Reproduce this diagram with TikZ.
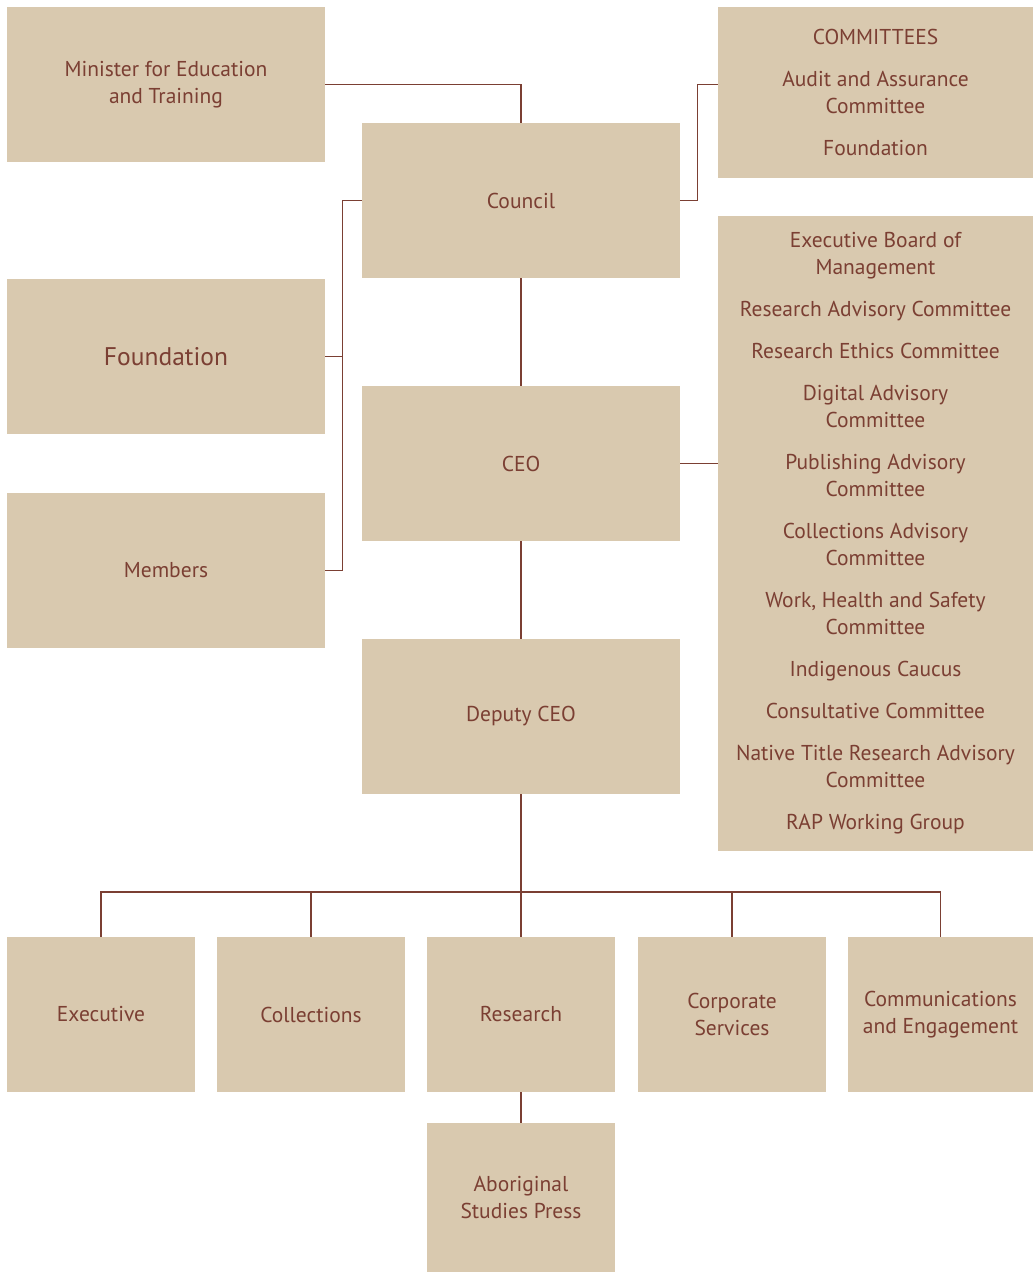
\documentclass[tikz,border=0pt]{standalone}
\usepackage{fontspec}
\setmainfont{PT Sans}
\usetikzlibrary{calc}
\definecolor{boxfill}{HTML}{D9C9AF}
\definecolor{ink}{HTML}{7B3F33}
\tikzset{
	orgbox/.style={fill=boxfill, text=ink, align=center, inner sep=0pt, font=\fontsize{21.5}{27}\selectfont},
	wide/.style={orgbox, minimum width=318, minimum height=155},
	unit/.style={orgbox, minimum width=188, minimum height=155},
	link/.style={draw=ink, line width=1.2pt}
}
\begin{document}
\begin{tikzpicture}[x=1pt, y=-1pt]
				%%%%% START %%%%%
				\useasboundingbox (0, 0) rectangle (1033, 1273);
				
				\node[wide] (minister) at (166, 84.5) {Minister for Education\\and Training};
				\node[wide] (council) at (521, 200.5) {Council};
				\node[wide, font=\fontsize{25.5}{27}\selectfont] (foundation) at (166, 356.5) {Foundation};
				\node[wide] (members) at (166, 570.5) {Members};
				\node[wide] (ceo) at (521, 463.5) {CEO};
				\node[wide] (deputy) at (521, 716.5) {Deputy CEO};
				
				\node[orgbox, minimum width=315, minimum height=171] (committees) at (875.5, 92.5)
					{COMMITTEES\\[15pt] Audit and Assurance\\Committee\\[15pt] Foundation};
				\node[orgbox, minimum width=315, minimum height=635] (board) at (875.5, 533.5)
					{Executive Board of\\Management\\[15pt]
					 Research Advisory Committee\\[15pt]
					 Research Ethics Committee\\[15pt]
					 Digital Advisory\\Committee\\[15pt]
					 Publishing Advisory\\Committee\\[15pt]
					 Collections Advisory\\Committee\\[15pt]
					 Work, Health and Safety\\Committee\\[15pt]
					 Indigenous Caucus\\[15pt]
					 Consultative Committee\\[15pt]
					 Native Title Research Advisory\\Committee\\[15pt]
					 RAP Working Group};
				
				\node[unit] (executive) at (101, 1014.5) {Executive};
				\node[unit] (collections) at (311, 1014.5) {Collections};
				\node[unit] (research) at (521, 1014.5) {Research};
				\node[unit] (corporate) at (732, 1014.5) {Corporate\\Services};
				\node[unit, minimum width=185] (comms) at (940.5, 1014.5) {Communications\\and Engagement};
				\node[unit, minimum height=149] (asp) at (521, 1197.5) {Aboriginal\\Studies Press};
				
				% links above the CEO
				\draw[link] (minister.east) -| (council.north);
				\draw[link] (council.east) -- ++(17, 0) |- (committees.west |- minister.east);
				\coordinate (spine) at ($(council.west) + (-19, 0)$);
				\draw[link] (council.west) -- (spine) |- (members.east);
				\draw[link] (foundation.east) -- (foundation.east -| spine);
				\draw[link] (council) -- (ceo);
				\draw[link] (ceo.east) -- (ceo.east -| board.west);
				\draw[link] (ceo) -- (deputy);
				
				% the five units
				\coordinate (bus) at (521, 892);
				\draw[link] (deputy.south) -- (research.north);
				\draw[link] (executive.north) -- (executive.north |- bus) -- (comms.north |- bus) -- (comms.north);
				\draw[link] (collections.north) -- (collections.north |- bus);
				\draw[link] (corporate.north) -- (corporate.north |- bus);
				\draw[link] (research) -- (asp);
				%%%%% END %%%%%
\end{tikzpicture}
\end{document}
